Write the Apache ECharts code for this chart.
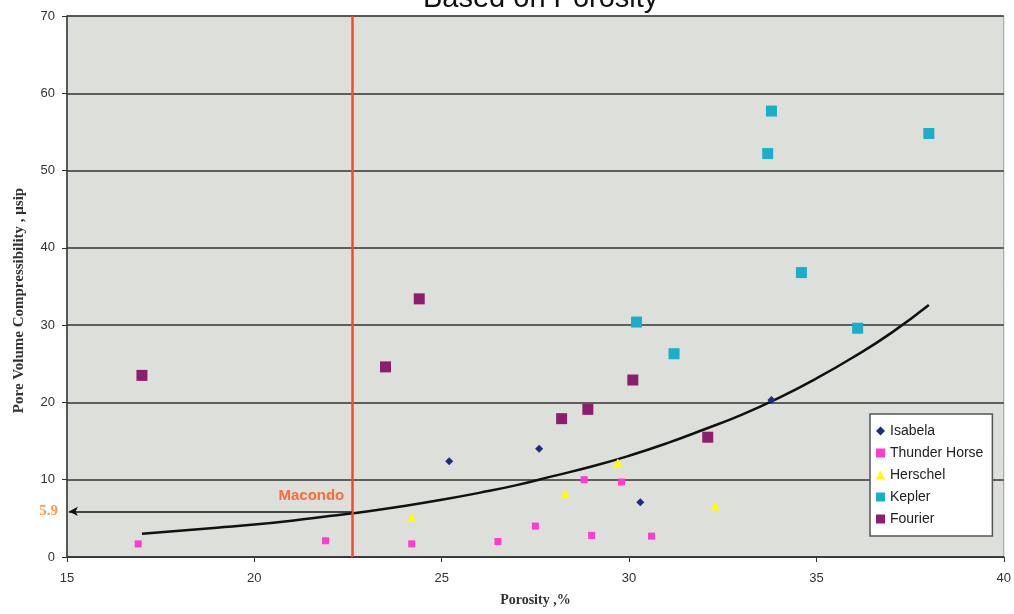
<!DOCTYPE html>
<html>
<head>
<meta charset="utf-8">
<script src="https://cdn.jsdelivr.net/npm/echarts@6/dist/echarts.min.js"></script>
<style>
  html, body { margin: 0; padding: 0; background: #fff; }
  #chart { width: 1014px; height: 614px; }
</style>
</head>
<body>
<div id="chart"></div>
<script>
// Values: [porosity %, compressibility]
const isabela = [[25.2, 12.4], [27.6, 14.0], [30.3, 7.1], [33.8, 20.3]];
const thunderHorse = [
  [16.9, 1.7], [21.9, 2.1], [24.2, 1.7], [26.5, 2.0], [27.5, 4.0],
  [28.8, 10.0], [29.8, 9.7], [29.0, 2.8], [30.6, 2.7]
];
const herschel = [[24.2, 5.1], [28.3, 8.2], [29.7, 12.2], [32.3, 6.6]];
const kepler = [
  [33.8, 57.7], [33.7, 52.2], [38.0, 54.8], [34.6, 36.8],
  [36.1, 29.6], [30.2, 30.4], [31.2, 26.3]
];
const fourier = [
  [17.0, 23.5], [24.4, 33.4], [23.5, 24.6], [28.2, 17.9],
  [28.9, 19.1], [30.1, 22.9], [32.1, 15.5]
];

// trend curve, points
const trendX = [17, 18, 19, 20, 21, 22, 23, 24, 25, 26, 27, 28, 29, 30, 31, 32, 33, 34, 35, 36, 37, 38];
const trendY = [3.0, 3.4, 3.8, 4.2, 4.7, 5.3, 5.9, 6.6, 7.4, 8.3, 9.3, 10.5, 11.7, 13.1, 14.7, 16.5, 18.4, 20.6, 23.1, 25.9, 29.0, 32.6];

const macondoX = 22.6;
const macondoY = 5.9;

const xTicks = { min: 15, max: 40, interval: 5 };
const yTicks = { min: 0, max: 70, interval: 10 };

const chart = echarts.init(document.getElementById("chart"));

const serif = "'Liberation Serif', 'Times New Roman', serif";
const sans = "'Liberation Sans', Arial, sans-serif";

const option = {
  animation: false,
  title: {
    text: "Based on Porosity",
    left: 423,
    top: -16,
    padding: 0,
    textStyle: { fontFamily: sans, fontSize: 29, fontWeight: "normal", color: "#111" }
  },
  legend: {
    orient: "vertical",
    left: 870,
    top: 414,
    padding: [10, 9, 10, 6],
    itemGap: 8,
    itemWidth: 9,
    itemHeight: 9,
    backgroundColor: "#fff",
    borderColor: "#555",
    borderWidth: 1.5,
    textStyle: { fontFamily: sans, fontSize: 14, color: "#222" },
    data: [
      { name: "Isabela", icon: "diamond" },
      { name: "Thunder Horse", icon: "rect" },
      { name: "Herschel", icon: "triangle" },
      { name: "Kepler", icon: "rect" },
      { name: "Fourier", icon: "rect" }
    ]
  },
  grid: {
    left: 67,
    right: 9,
    top: 16,
    bottom: 57,
    show: true,
    backgroundColor: "#dcdfda",
    borderColor: "#9a9a9a",
    borderWidth: 1
  },
  xAxis: {
    type: "value",
    min: xTicks.min,
    max: xTicks.max,
    interval: xTicks.interval,
    name: "Porosity ,%",
    nameLocation: "middle",
    nameGap: 36,
    nameTextStyle: { fontFamily: serif, fontSize: 14, fontWeight: "bold", color: "#333" },
    axisLine: { show: true, lineStyle: { color: "#333", width: 1.5 } },
    axisTick: { show: true, length: 5, lineStyle: { color: "#333" } },
    axisLabel: { fontFamily: sans, fontSize: 13, color: "#333", margin: 15 },
    splitLine: { show: false }
  },
  yAxis: {
    type: "value",
    min: yTicks.min,
    max: yTicks.max,
    interval: yTicks.interval,
    name: "Pore Volume Compressibility , \u03bcsip",
    nameLocation: "middle",
    nameGap: 40,
    nameTextStyle: {
      fontFamily: serif, fontSize: 15, fontWeight: "bold", color: "#333",
      padding: [0, 28, 0, 0]
    },
    axisLine: { show: true, lineStyle: { color: "#333", width: 1.5 } },
    axisTick: { show: true, length: 5, lineStyle: { color: "#333" } },
    axisLabel: { fontFamily: sans, fontSize: 13, color: "#333", margin: 12 },
    splitLine: { show: true, lineStyle: { color: "#333", width: 1.6 } }
  },
  series: [
    {
      name: "trend",
      type: "line",
      data: trendX.map((x, i) => [x, trendY[i]]),
      smooth: true,
      showSymbol: false,
      symbol: "none",
      lineStyle: { color: "#111", width: 2.5 },
      z: 3,
      markLine: {
        silent: true,
        animation: false,
        label: { show: false },
        data: [
          [
            { coord: [macondoX, yTicks.min], symbol: "none" },
            { coord: [macondoX, yTicks.max], symbol: "none", lineStyle: { color: "#ff4a1c", width: 2.5, type: "solid" } }
          ],
          [
            { coord: [macondoX, macondoY], symbol: "none" },
            { coord: [xTicks.min + 0.05, macondoY], symbol: "arrow", symbolSize: [7, 9], lineStyle: { color: "#111", width: 1.5, type: "solid" } }
          ]
        ]
      },
      markPoint: {
        silent: true,
        symbolSize: 0,
        data: [
          {
            coord: [macondoX - 0.2, macondoY + 2.0],
            label: {
              show: true, position: "left", distance: 0,
              formatter: "Macondo",
              fontFamily: sans, fontSize: 15, fontWeight: "bold", color: "#ff6a3a"
            }
          },
          {
            coord: [xTicks.min, macondoY],
            label: {
              show: true, position: "left", distance: 9,
              formatter: "5.9",
              fontFamily: serif, fontSize: 15, fontWeight: "bold", color: "#ff9a4a"
            }
          }
        ]
      }
    },
    {
      name: "Isabela", type: "scatter", data: isabela,
      symbol: "diamond", symbolSize: 8,
      itemStyle: { color: "#1f2a82", opacity: 1 }, z: 4
    },
    {
      name: "Thunder Horse", type: "scatter", data: thunderHorse,
      symbol: "rect", symbolSize: 7,
      itemStyle: { color: "#ff3ccc", opacity: 1 }, z: 4
    },
    {
      name: "Herschel", type: "scatter", data: herschel,
      symbol: "triangle", symbolSize: 9,
      itemStyle: { color: "#ffff00", opacity: 1 }, z: 4
    },
    {
      name: "Kepler", type: "scatter", data: kepler,
      symbol: "rect", symbolSize: 11,
      itemStyle: { color: "#1aaec8", opacity: 1 }, z: 4
    },
    {
      name: "Fourier", type: "scatter", data: fourier,
      symbol: "rect", symbolSize: 11,
      itemStyle: { color: "#8b1f6e", opacity: 1 }, z: 4
    }
  ]
};

chart.setOption(option);
</script>
</body>
</html>
